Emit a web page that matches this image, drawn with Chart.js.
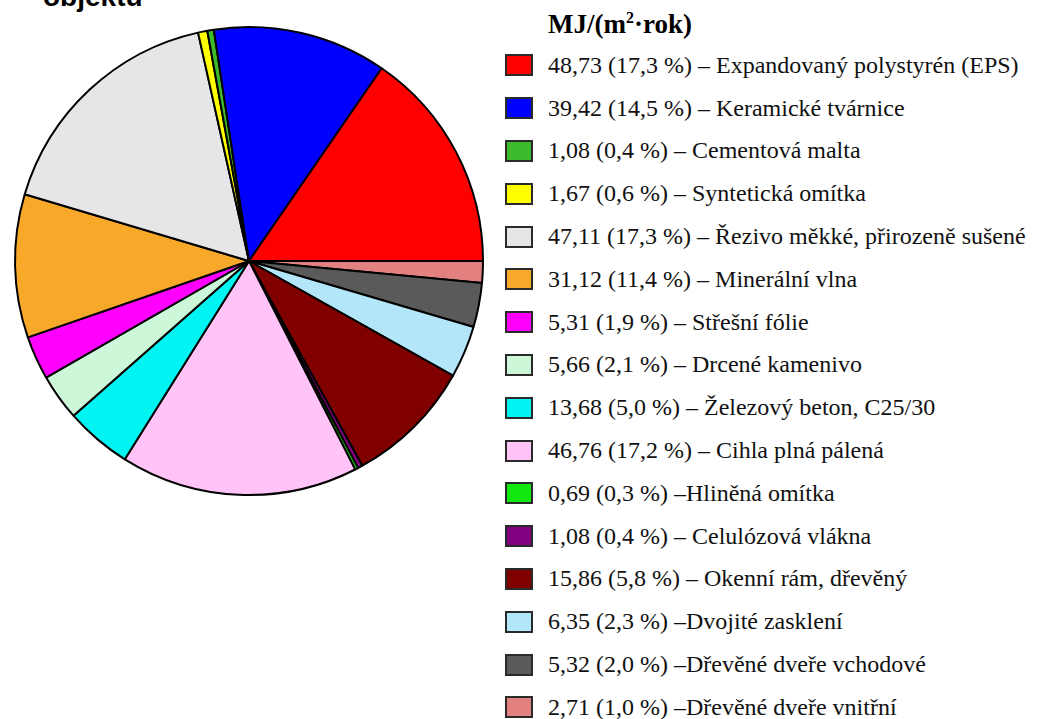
<!DOCTYPE html>
<html>
<head>
<meta charset="utf-8">
<script src="https://cdn.jsdelivr.net/npm/chart.js@4/dist/chart.umd.min.js"></script>
<style>
  body { margin: 0; background: #fff; width: 1043px; height: 719px; overflow: hidden; position: relative; }
  #nadpis { position: absolute; left: 43px; top: -17px; font-family: "Liberation Sans", Arial, sans-serif; font-weight: bold; font-size: 28px; line-height: 28px; color: #000; }
  #graf { position: absolute; left: 0; top: 0; width: 498px; height: 522px; }
  .patkove { font-family: "Liberation Serif", "Times New Roman", Tinos, "DejaVu Serif", serif; }
  #jednotka { position: absolute; left: 548px; top: 6px; font-weight: bold; font-size: 27px; line-height: 36px; color: #000; }
  #jednotka sup { font-size: 16px; line-height: 0; }
  #legenda { position: absolute; left: 505px; top: 44px; margin: 0; padding: 0; list-style: none; }
  #legenda li { display: flex; align-items: center; height: 42.8px; font-size: 24px; color: #111; white-space: nowrap; }
  #legenda .box { box-sizing: border-box; width: 28px; height: 22px; border: 2px solid #2a2a2a; margin-right: 15px; flex: none; }
</style>
</head>
<body>
<div id="nadpis">objektu</div>
<div id="graf"><canvas id="kolac"></canvas></div>
<div id="jednotka" class="patkove">MJ/(m<sup>2</sup>·rok)</div>
<ul id="legenda" class="patkove"></ul>

<script>
// hodnoty z legendy
var hodnoty = ["48,73", "39,42", "1,08", "1,67", "47,11", "31,12", "5,31", "5,66", "13,68", "46,76", "0,69", "1,08", "15,86", "6,35", "5,32", "2,71"];
var procenta = ["17,3", "14,5", "0,4", "0,6", "17,3", "11,4", "1,9", "2,1", "5,0", "17,2", "0,3", "0,4", "5,8", "2,3", "2,0", "1,0"];
var nazvy = [
  "– Expandovaný polystyrén (EPS)",
  "– Keramické tvárnice",
  "– Cementová malta",
  "– Syntetická omítka",
  "– Řezivo měkké, přirozeně sušené",
  "– Minerální vlna",
  "– Střešní fólie",
  "– Drcené kamenivo",
  "– Železový beton, C25/30",
  "– Cihla plná pálená",
  "–Hliněná omítka",
  "– Celulózová vlákna",
  "– Okenní rám, dřevěný",
  "–Dvojité zasklení",
  "–Dřevěné dveře vchodové",
  "–Dřevěné dveře vnitřní"
];
// podil vysece tak, jak je nakreslen v kolaci (%)
var podilVysece = [15.4, 12.0, 0.45, 0.64, 16.9, 9.9, 3.0, 3.2, 4.6, 16.4, 0.22, 0.33, 8.8, 3.6, 3.05, 1.5];
var barvy = ["#ff0000", "#0000ff", "#3cba2c", "#ffff00", "#e6e6e8", "#f8a92a", "#ff00ff", "#ccf8d9", "#00f4f2", "#ffc3f8", "#10e810", "#800080", "#800000", "#b4e6fa", "#5a5a5a", "#e2817f"];

// kolac jde proti smeru hodin od 3 hodin -> obratit poradi
var dataKolac = podilVysece.slice().reverse();
var barvyKolac = barvy.slice().reverse();

new Chart(document.getElementById("kolac"), {
  type: "pie",
  data: {
    labels: nazvy.slice().reverse(),
    datasets: [{
      data: dataKolac,
      backgroundColor: barvyKolac,
      borderColor: "#000",
      borderWidth: 2,
    }],
  },
  options: {
    responsive: true,
    maintainAspectRatio: false,
    animation: false,
    rotation: 90,
    radius: 234,
    layout: { padding: 0 },
    plugins: {
      legend: { display: false },
      tooltip: { enabled: false },
    },
  },
});

var ul = document.getElementById("legenda");
nazvy.forEach(function (n, i) {
  var li = document.createElement("li");
  var box = document.createElement("span");
  box.className = "box";
  box.style.background = barvy[i];
  li.appendChild(box);
  li.appendChild(document.createTextNode(hodnoty[i] + " (" + procenta[i] + " %) " + n));
  ul.appendChild(li);
});
</script>
</body>
</html>
